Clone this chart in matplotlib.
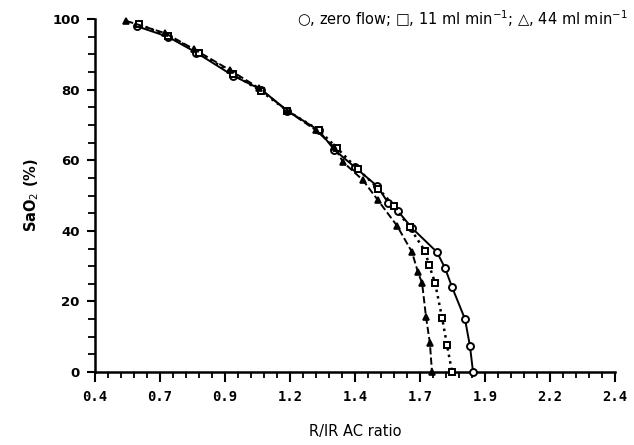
import numpy as np
import matplotlib.pyplot as plt

# -----------------------------
# Data
# -----------------------------
# zero flow (open circles, solid line)
circ_x = [0.56, 0.68, 0.79, 0.93, 1.04, 1.14, 1.26, 1.32, 1.40, 1.485, 1.527, 1.565, 1.619, 1.715, 1.746, 1.773, 1.823, 1.842, 1.854]
circ_y = [98.0, 95.0, 90.5, 84.0, 80.0, 74.0, 68.5, 63.0, 58.0, 52.7, 48.0, 45.6, 40.8, 34.0, 29.5, 24.1, 15.0, 7.4, 0.0]

# 11 ml/min (open squares, dotted line)
sq_x = [0.57, 0.68, 0.80, 0.93, 1.04, 1.14, 1.26, 1.33, 1.41, 1.49, 1.55, 1.61, 1.669, 1.685, 1.708, 1.735, 1.754, 1.773]
sq_y = [98.5, 95.3, 90.5, 84.5, 79.5, 74.0, 68.6, 63.5, 57.5, 52.0, 47.0, 41.0, 34.3, 30.3, 25.2, 15.3, 7.6, 0.0]

# 44 ml/min (triangles, dashed line)
tri_x = [0.52, 0.67, 0.78, 0.92, 1.03, 1.14, 1.25, 1.32, 1.354, 1.43, 1.488, 1.562, 1.619, 1.642, 1.658, 1.673, 1.688, 1.696]
tri_y = [99.5, 96.0, 91.5, 85.5, 80.5, 74.0, 68.5, 63.7, 59.5, 54.4, 48.7, 41.4, 34.0, 28.3, 25.2, 15.6, 8.2, 0.0]

xtick_pos = [0.4, 0.65, 0.9, 1.15, 1.4, 1.65, 1.9, 2.15, 2.4]
xtick_lab = ['0.4', '0.7', '0.9', '1.2', '1.4', '1.7', '1.9', '2.2', '2.4']
ytick_pos = [0, 20, 40, 60, 80, 100]

# -----------------------------
# Plot
# -----------------------------
fig = plt.figure(figsize=(6.34, 4.45), dpi=100)
ax = fig.add_axes([0.150, 0.164, 0.820, 0.793])

ax.plot(circ_x, circ_y, '-', color='black', lw=1.4, marker='o', ms=5,
        mfc='white', mec='black', mew=1.4, clip_on=False, zorder=3)
ax.plot(sq_x, sq_y, ':', color='black', lw=1.8, marker='s', ms=4.5,
        mfc='white', mec='black', mew=1.4, clip_on=False, zorder=3)
ax.plot(tri_x, tri_y, '--', color='black', lw=1.4, marker='^', ms=5,
        mfc='black', mec='black', mew=1.2, clip_on=False, zorder=3)

ax.set_xlim(0.4, 2.4)
ax.set_ylim(0, 100)
ax.set_xticks(xtick_pos)
ax.set_xticklabels(xtick_lab, family='DejaVu Sans Mono', fontweight='bold', fontsize=10)
ax.set_xticks(np.arange(0.4, 2.401, 0.05), minor=True)
ax.set_yticks(ytick_pos)
ax.set_yticklabels([str(v) for v in ytick_pos], fontweight='bold', fontsize=9.5)
ax.set_yticks(np.arange(0, 101, 5), minor=True)

ax.tick_params(axis='x', which='major', direction='out', length=7, width=1.5, pad=6)
ax.tick_params(axis='x', which='minor', direction='out', length=4, width=1.3)
ax.tick_params(axis='y', which='major', direction='out', length=6, width=1.5, pad=5)
ax.tick_params(axis='y', which='minor', direction='out', length=5, width=1.3)

for s in ['top', 'right']:
    ax.spines[s].set_visible(False)
for s in ['left', 'bottom']:
    ax.spines[s].set_linewidth(1.8)

ax.set_xlabel('R/IR AC ratio', fontsize=10.5, labelpad=14)
ax.set_ylabel('SaO$_2$ (%)', fontsize=10.5, fontweight='bold', labelpad=8)

fig.text(0.468, 0.958, '○, zero flow; □, 11 ml min$^{-1}$; △, 44 ml min$^{-1}$',
         fontsize=10.5, ha='left', va='center')

plt.savefig('out.png', dpi=100)
